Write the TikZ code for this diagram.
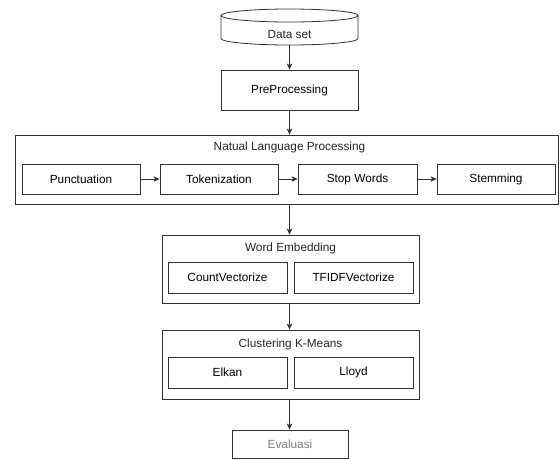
\documentclass[tikz,border=0pt]{standalone}
\usepackage{fontspec}
\setmainfont{Liberation Sans}
\usetikzlibrary{arrows.meta}
\begin{document}
\begin{tikzpicture}[x=1pt,y=1pt,
  line/.style={draw=black!80, line width=0.8pt},
  box/.style={line, fill=white, rectangle, inner sep=0pt, font=\fontsize{11.8}{14}\selectfont},
  txt/.style={inner sep=0pt, font=\fontsize{11.8}{14}\selectfont, text=black!85},
  arr/.style={line, -{Stealth[length=6pt,width=5.5pt,inset=1.5pt]}}
]
\useasboundingbox (0,0) rectangle (560,-459);
% Data set cylinder
\node[inner sep=0pt, minimum width=137, minimum height=36] (ds) at (289.5,-27) {};
\draw[line, fill=white] (221,-15.5) -- (221,-38.5) arc[start angle=180, end angle=360, x radius=68.5pt, y radius=6.5pt] -- (358,-15.5);
\draw[line, fill=white] (289.5,-15.5) ellipse[x radius=68.5pt, y radius=6.5pt];
\node[txt] (dstext) at (289.5,-34) {Data set};
% PreProcessing
\node[box, minimum width=137, minimum height=40] (pre) at (289.5,-90) {PreProcessing};
% NLP
\node[box, minimum width=543, minimum height=69] (nlp) at (286.5,-169.5) {};
\node[txt] (nlpt) at (289.5,-147) {Natual Language Processing};
\node[box, minimum width=118, minimum height=30] (punc) at (81,-179) {Punctuation};
\node[box, minimum width=118, minimum height=30] (tok) at (219,-179) {Tokenization};
\node[box, minimum width=119, minimum height=30] (stop) at (357.5,-179) {Stop Words};
\node[box, minimum width=118, minimum height=30] (stem) at (496,-179) {Stemming};
% Word Embedding
\node[box, minimum width=257, minimum height=68] (we) at (290.5,-269) {};
\node[txt] (wet) at (290.5,-248) {Word Embedding};
\node[box, minimum width=119, minimum height=31] (cv) at (227.5,-277.5) {CountVectorize};
\node[box, minimum width=119, minimum height=31] (tf) at (353.5,-277.5) {TFIDFVectorize};
% Clustering
\node[box, minimum width=257, minimum height=69] (cl) at (290.5,-364.5) {};
\node[txt] (clt) at (290.5,-344) {Clustering K-Means};
\node[box, minimum width=119, minimum height=31] (el) at (227.5,-372.5) {Elkan};
\node[box, minimum width=119, minimum height=31] (ll) at (353.5,-372.5) {Lloyd};
% Evaluasi
\node[box, minimum width=116, minimum height=28, text=black!50] (ev) at (290,-444) {Evaluasi};
% connectors
\draw[arr] (ds.south) -- (pre.north);
\draw[arr] (pre.south) -- (pre.south |- nlp.north);
\draw[arr] (punc) -- (tok);
\draw[arr] (tok) -- (stop);
\draw[arr] (stop) -- (stem);
\draw[arr] (pre.south |- nlp.south) -- (pre.south |- we.north);
\draw[arr] (pre.south |- we.south) -- (pre.south |- cl.north);
\draw[arr] (pre.south |- cl.south) -- (pre.south |- ev.north);
\end{tikzpicture}
\end{document}
